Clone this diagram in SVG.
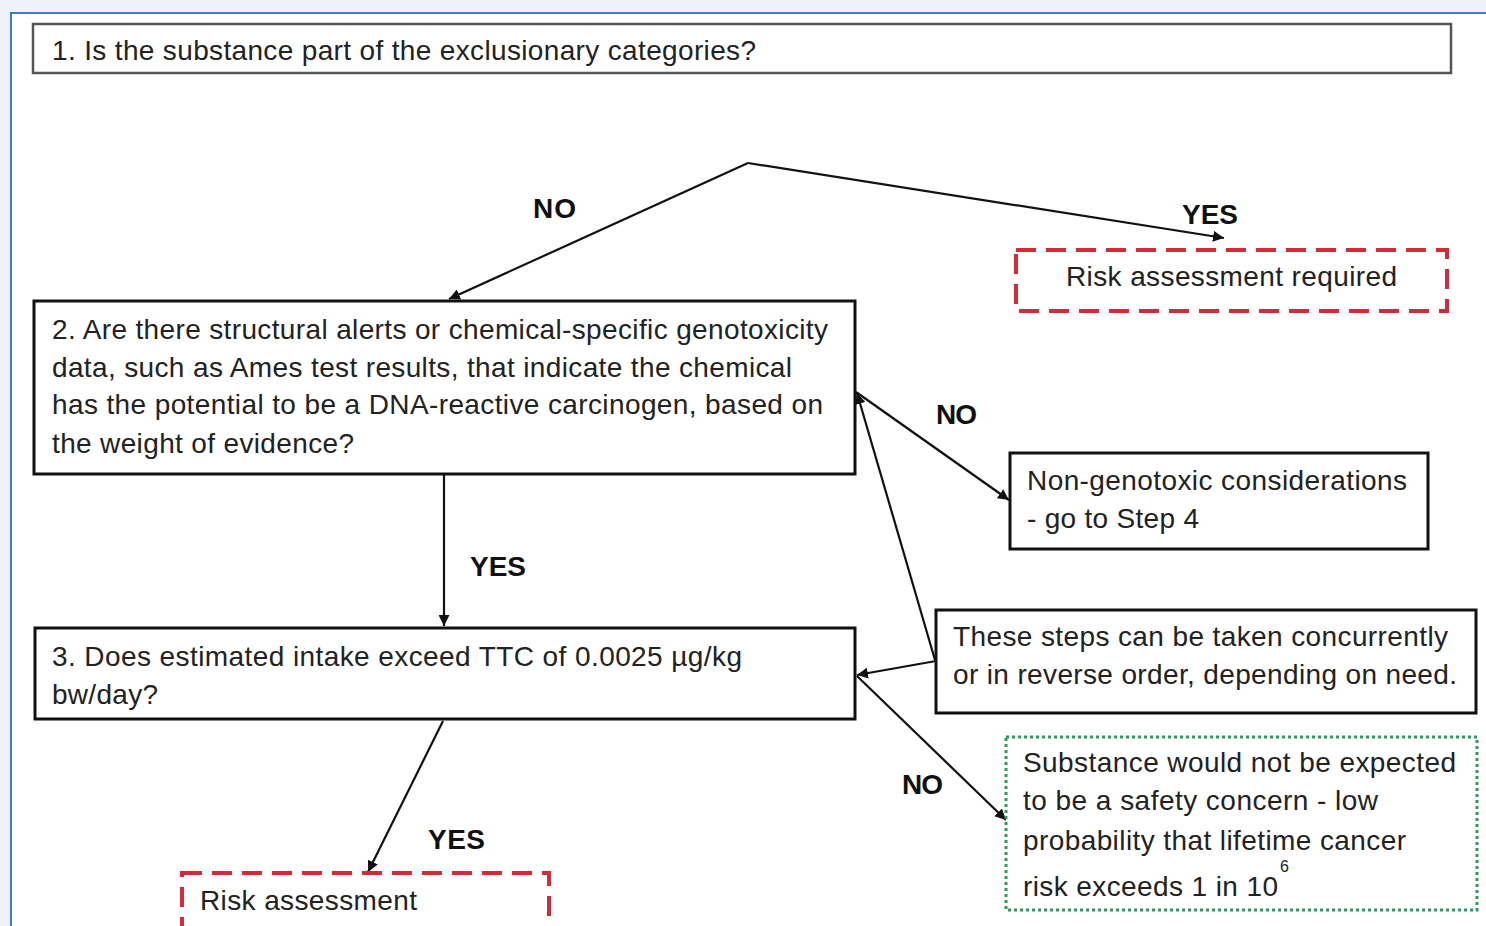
<svg xmlns="http://www.w3.org/2000/svg" width="1486" height="926" viewBox="0 0 1486 926">
  <style>
    .t { font-family: "Liberation Sans", Arial, sans-serif; font-size: 28px; fill: #222; }
    .lbl { font-family: "Liberation Sans", Arial, sans-serif; font-size: 28px; font-weight: bold; fill: #111; }
    .box { fill: #fff; stroke: #111; stroke-width: 3; }
    .gbox { fill: #fff; stroke: #555; stroke-width: 2.5; }
    .red { fill: #fff; stroke: #d8283c; stroke-width: 4; stroke-dasharray: 20 10; }
    .green { fill: #fff; stroke: #2f9a5c; stroke-width: 3; stroke-dasharray: 3 3; }
    .edge { fill: none; stroke: #111; stroke-width: 2.2; }
  </style>
  <defs>
    <marker id="arrow" viewBox="0 0 10 10" refX="10" refY="5" markerWidth="5" markerHeight="5" orient="auto" markerUnits="strokeWidth">
      <path d="M0,0 L10,5 L0,10 z" fill="#111"/>
    </marker>
  </defs>

  <!-- page frame -->
  <rect x="0" y="0" width="1486" height="926" fill="#eef2fa"/>
  <rect x="11" y="13" width="1480" height="920" fill="#fff" stroke="#4a76c8" stroke-width="2"/>

  <!-- connectors -->
  <g id="connectors">
    <polyline class="edge" points="748,163 449,299" marker-end="url(#arrow)"/>
    <polyline class="edge" points="748,163 1224,238" marker-end="url(#arrow)"/>
    <line class="edge" x1="444" y1="475" x2="444" y2="626" marker-end="url(#arrow)"/>
    <line class="edge" x1="856" y1="392" x2="1009" y2="500" marker-end="url(#arrow)"/>
    <line class="edge" x1="935" y1="660" x2="857" y2="393" marker-end="url(#arrow)"/>
    <line class="edge" x1="936" y1="661" x2="857" y2="675" marker-end="url(#arrow)"/>
    <line class="edge" x1="857" y1="676" x2="1006" y2="820" marker-end="url(#arrow)"/>
    <line class="edge" x1="443" y1="721" x2="368" y2="872" marker-end="url(#arrow)"/>
    <text class="lbl" x="533" y="218" textLength="43">NO</text>
    <text class="lbl" x="1182" y="224" textLength="56">YES</text>
    <text class="lbl" x="470" y="576" textLength="56">YES</text>
    <text class="lbl" x="936" y="424" textLength="41">NO</text>
    <text class="lbl" x="902" y="794" textLength="41">NO</text>
    <text class="lbl" x="428" y="849" textLength="57">YES</text>
  </g>

  <g id="q1">
    <rect class="gbox" x="33" y="24" width="1418" height="49"/>
    <text class="t" x="52" y="60" textLength="704">1. Is the substance part of the exclusionary categories?</text>
  </g>

  <g id="risk-required">
    <rect class="red" x="1016" y="250" width="431" height="61"/>
    <text class="t" x="1066" y="286" textLength="331">Risk assessment required</text>
  </g>

  <g id="q2">
    <rect class="box" x="34" y="301" width="821" height="173"/>
    <text class="t" x="52" y="339" textLength="776">2. Are there structural alerts or chemical-specific genotoxicity</text>
    <text class="t" x="52" y="377" textLength="740">data, such as Ames test results, that indicate the chemical</text>
    <text class="t" x="52" y="414" textLength="771">has the potential to be a DNA-reactive carcinogen, based on</text>
    <text class="t" x="52" y="453" textLength="302">the weight of evidence?</text>
  </g>

  <g id="non-genotoxic">
    <rect class="box" x="1010" y="453" width="418" height="96"/>
    <text class="t" x="1027" y="490" textLength="380">Non-genotoxic considerations</text>
    <text class="t" x="1027" y="528" textLength="172">- go to Step 4</text>
  </g>

  <g id="concurrent-note">
    <rect class="box" x="936" y="610" width="540" height="103"/>
    <text class="t" x="953" y="646" textLength="495">These steps can be taken concurrently</text>
    <text class="t" x="953" y="684" textLength="504">or in reverse order, depending on need.</text>
  </g>

  <g id="q3">
    <rect class="box" x="35" y="628" width="820" height="91"/>
    <text class="t" x="52" y="666" textLength="690">3. Does estimated intake exceed TTC of 0.0025 µg/kg</text>
    <text class="t" x="52" y="704" textLength="106">bw/day?</text>
  </g>

  <g id="no-concern">
    <rect class="green" x="1006" y="737" width="471" height="173"/>
    <text class="t" x="1023" y="772" textLength="433">Substance would not be expected</text>
    <text class="t" x="1023" y="810" textLength="355">to be a safety concern - low</text>
    <text class="t" x="1023" y="850" textLength="383">probability that lifetime cancer</text>
    <text class="t" x="1023" y="896" textLength="255">risk exceeds 1 in 10</text>
    <text class="t" x="1280" y="872" style="font-size:16px">6</text>
  </g>

  <g id="risk-assessment">
    <rect class="red" x="182" y="873" width="367" height="70"/>
    <text class="t" x="200" y="910" textLength="217">Risk assessment</text>
  </g>
</svg>
